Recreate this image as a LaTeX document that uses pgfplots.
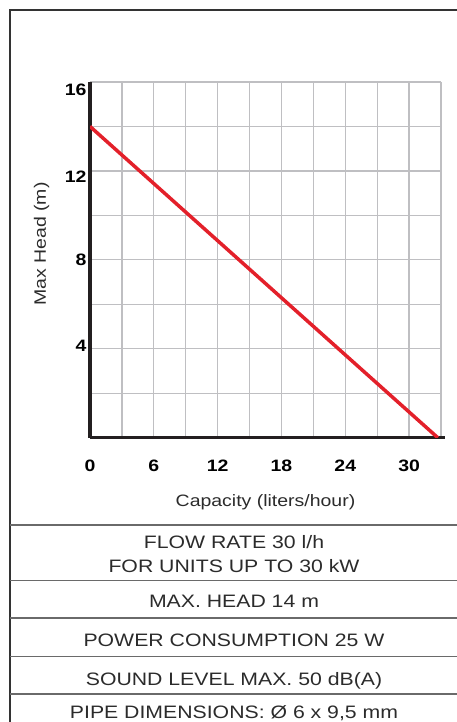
\documentclass[border=0pt]{standalone}
\usepackage{fontspec}
\setmainfont{Liberation Sans}[FakeStretch=1.18]
\usepackage{pgfplots}
\pgfplotsset{compat=1.18}
\definecolor{gridgray}{HTML}{BFBFC2}
\definecolor{curvered}{HTML}{E3202A}
\definecolor{spine}{HTML}{231F20}
\definecolor{framec}{HTML}{333333}
\definecolor{tablegray}{HTML}{6A6A6A}
\definecolor{txt}{HTML}{2B2B2B}
\begin{document}
\begin{tikzpicture}
\useasboundingbox (0,0) rectangle (457bp,722bp);
\draw[framec, line width=1.1bp] (10bp,-2bp) -- (10bp,712bp) -- (460bp,712bp);
\foreach \y in {197,141.3,104,65.3,28}
  \draw[tablegray, line width=1.1bp] (10bp,\y bp) -- (460bp,\y bp);
\begin{scope}[every node/.style={text=txt, font=\fontsize{18bp}{20bp}\selectfont, anchor=base}]
\node at (234bp,173bp) {FLOW RATE 30 l/h};
\node at (234bp,149bp) {FOR UNITS UP TO 30 kW};
\node at (234bp,114bp) {MAX. HEAD 14 m};
\node at (234bp,75.5bp) {POWER CONSUMPTION 25 W};
\node at (234bp,37bp) {SOUND LEVEL MAX. 50 dB(A)};
\node at (234bp,4bp) {PIPE DIMENSIONS: Ø 6 x 9,5 mm};
\end{scope}
\begin{axis}[
  at={(90bp,284.3bp)}, anchor=south west,
  scale only axis, width=351bp, height=355.7bp,
  xmin=0, xmax=33, ymin=0, ymax=16,
  axis x line=bottom, axis y line=left,
  axis line style={-, spine, line width=3bp},
  x axis line style={shorten >=-4bp},
  xtick={0,6,...,30},
  minor xtick={0,3,...,33},
  ytick={4.13,7.99,11.74,15.64},
  yticklabels={4,8,12,16},
  minor ytick={2,4,...,16},
  major tick length=0pt, minor tick length=0pt,
  grid=minor,
  minor grid style={gridgray, line width=1.2bp},
  /pgf/number format/assume math mode=true,
  xticklabel style={font=\bfseries\fontsize{16.5bp}{16.5bp}\selectfont, anchor=base, yshift=-34bp, text=black},
  yticklabel style={font=\bfseries\fontsize{16.5bp}{16.5bp}\selectfont, text=black},
  xlabel={Capacity (liters/hour)},
  ylabel={Max Head (m)},
  label style={font=\fontsize{16.5bp}{18bp}\selectfont, text=txt},
  xlabel style={at={(axis description cs:0.5,-0.194)}, anchor=base},
  ylabel style={at={(axis description cs:-0.1254,0.5446)}, anchor=base},
]
\addplot[curvered, line width=3.5bp] coordinates {(0,14) (32.7,0)};
\end{axis}
\end{tikzpicture}
\end{document}
